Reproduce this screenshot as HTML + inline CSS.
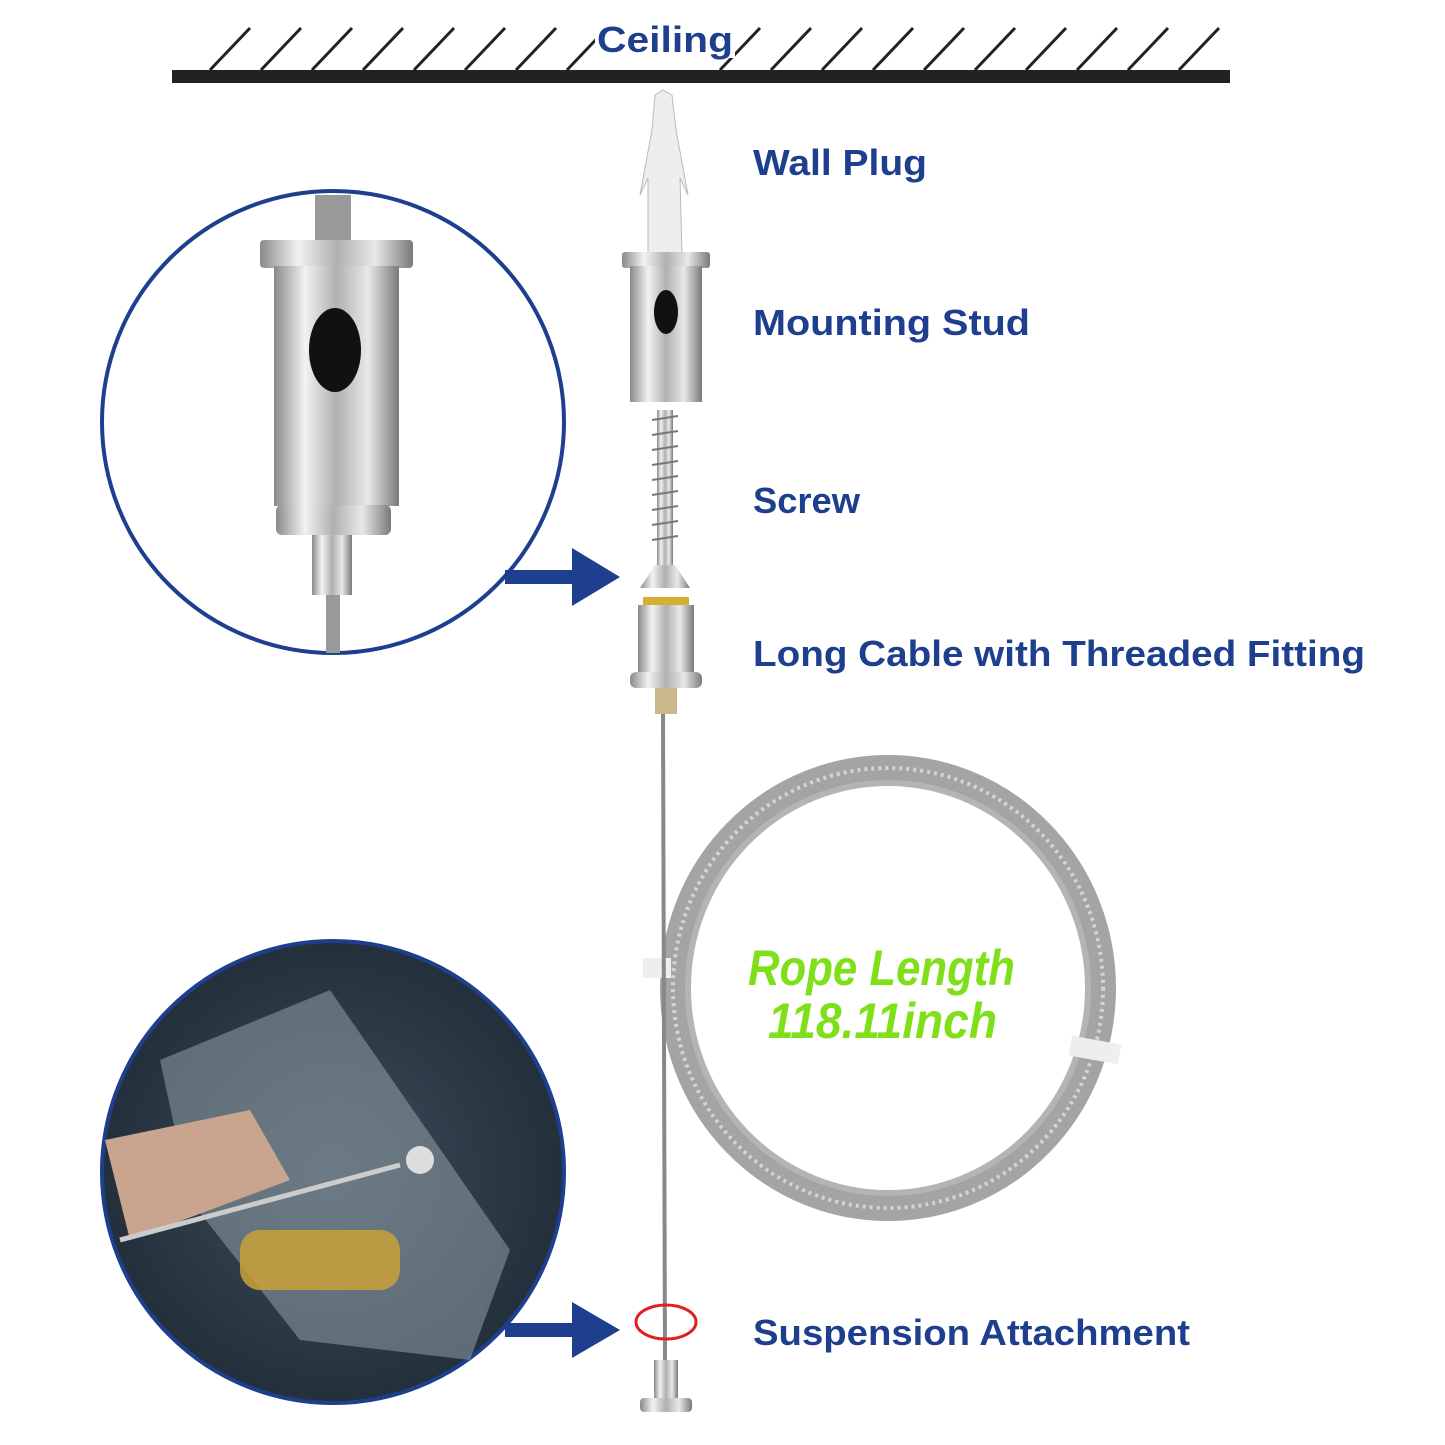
<!DOCTYPE html>
<html><head><meta charset="utf-8"><style>
html,body{margin:0;padding:0;background:#fff;}
svg{display:block;}
.lbl{font-family:"Liberation Sans",sans-serif;font-weight:bold;fill:#1d3f8e;font-size:36px;}
</style></head><body>
<svg width="1445" height="1445" viewBox="0 0 1445 1445" xmlns="http://www.w3.org/2000/svg">
<defs>
<linearGradient id="metal" x1="0" x2="1" y1="0" y2="0">
<stop offset="0" stop-color="#8a8a8a"/><stop offset="0.25" stop-color="#f2f2f2"/><stop offset="0.5" stop-color="#b0b0b0"/><stop offset="0.75" stop-color="#e8e8e8"/><stop offset="1" stop-color="#7a7a7a"/>
</linearGradient>
<radialGradient id="photo" cx="0.5" cy="0.5" r="0.6">
<stop offset="0" stop-color="#3d4d5a"/><stop offset="1" stop-color="#1e2a36"/>
</radialGradient>
</defs>
<g stroke="#222" stroke-width="3">
<line x1="210" y1="70" x2="250" y2="28"/><line x1="261" y1="70" x2="301" y2="28"/><line x1="312" y1="70" x2="352" y2="28"/><line x1="363" y1="70" x2="403" y2="28"/><line x1="414" y1="70" x2="454" y2="28"/><line x1="465" y1="70" x2="505" y2="28"/><line x1="516" y1="70" x2="556" y2="28"/><line x1="567" y1="70" x2="607" y2="28"/><line x1="720" y1="70" x2="760" y2="28"/><line x1="771" y1="70" x2="811" y2="28"/><line x1="822" y1="70" x2="862" y2="28"/><line x1="873" y1="70" x2="913" y2="28"/><line x1="924" y1="70" x2="964" y2="28"/><line x1="975" y1="70" x2="1015" y2="28"/><line x1="1026" y1="70" x2="1066" y2="28"/><line x1="1077" y1="70" x2="1117" y2="28"/><line x1="1128" y1="70" x2="1168" y2="28"/><line x1="1179" y1="70" x2="1219" y2="28"/>
</g>
<rect x="172" y="70" width="1058" height="13" fill="#222"/>
<rect x="595" y="14" width="140" height="44" fill="#fff"/>
<text x="597" y="52" class="lbl" font-size="38" textLength="136" lengthAdjust="spacingAndGlyphs">Ceiling</text>

<text x="753" y="175" class="lbl" textLength="174" lengthAdjust="spacingAndGlyphs">Wall Plug</text>
<text x="753" y="335" class="lbl" textLength="277" lengthAdjust="spacingAndGlyphs">Mounting Stud</text>
<text x="753" y="513" class="lbl" textLength="107" lengthAdjust="spacingAndGlyphs">Screw</text>
<text x="753" y="666" class="lbl" textLength="612" lengthAdjust="spacingAndGlyphs">Long Cable with Threaded Fitting</text>
<text x="753" y="1345" class="lbl" textLength="437" lengthAdjust="spacingAndGlyphs">Suspension Attachment</text>

<circle cx="333" cy="422" r="231" fill="#fff" stroke="#1d3f8e" stroke-width="4"/>
<rect x="315" y="195" width="36" height="50" fill="#999"/>
<rect x="260" y="240" width="153" height="28" rx="4" fill="url(#metal)"/>
<rect x="274" y="266" width="125" height="240" fill="url(#metal)"/>
<ellipse cx="335" cy="350" rx="26" ry="42" fill="#111"/>
<rect x="276" y="505" width="115" height="30" rx="6" fill="url(#metal)"/>
<rect x="312" y="535" width="40" height="60" fill="url(#metal)"/>
<rect x="326" y="595" width="14" height="58" fill="#999"/>
<rect x="505" y="570" width="72" height="14" fill="#1d3f8e"/>
<polygon points="572,548 620,577 572,606" fill="#1d3f8e"/>

<circle cx="333" cy="1172" r="231" fill="url(#photo)" stroke="#1d3f8e" stroke-width="4"/>
<polygon points="160,1060 330,990 510,1250 470,1360 300,1340 190,1200" fill="#9aa8b0" opacity="0.5"/>
<path d="M105,1140 L250,1110 L290,1180 L130,1240 Z" fill="#c9a48e"/>
<rect x="240" y="1230" width="160" height="60" rx="20" fill="#c9a23a" opacity="0.85"/>
<line x1="120" y1="1240" x2="400" y2="1165" stroke="#ccc" stroke-width="5"/>
<circle cx="420" cy="1160" r="14" fill="#ddd"/>
<rect x="505" y="1323" width="72" height="14" fill="#1d3f8e"/>
<polygon points="572,1302 620,1330 572,1358" fill="#1d3f8e"/>

<ellipse cx="888" cy="988" rx="215" ry="220" fill="none" stroke="#a4a4a4" stroke-width="26"/>
<ellipse cx="888" cy="988" rx="215" ry="220" fill="none" stroke="#d4d4d4" stroke-width="4" stroke-dasharray="3 4"/>
<ellipse cx="888" cy="988" rx="200" ry="205" fill="none" stroke="#b4b4b4" stroke-width="6"/>
<rect x="643" y="958" width="28" height="20" fill="#eee"/>
<rect x="1070" y="1040" width="50" height="20" fill="#eee" transform="rotate(10 1095 1050)"/>
<text x="748" y="985" textLength="267" lengthAdjust="spacingAndGlyphs" font-family="Liberation Sans,sans-serif" font-weight="bold" font-style="italic" font-size="50" fill="#7fe01a">Rope Length</text>
<text x="768" y="1038" textLength="229" lengthAdjust="spacingAndGlyphs" font-family="Liberation Sans,sans-serif" font-weight="bold" font-style="italic" font-size="50" fill="#7fe01a">118.11inch</text>

<line x1="663" y1="712" x2="665" y2="1365" stroke="#888" stroke-width="4"/>

<path d="M655,95 L663,90 L672,95 L676,130 L688,195 L680,178 L682,255 L648,255 L648,178 L640,195 L652,130 Z" fill="#eeeeee" stroke="#bbb"/>
<rect x="622" y="252" width="88" height="16" rx="3" fill="url(#metal)"/>
<rect x="630" y="266" width="72" height="136" fill="url(#metal)"/>
<ellipse cx="666" cy="312" rx="12" ry="22" fill="#111"/>
<rect x="657" y="410" width="16" height="160" fill="url(#metal)"/>
<g stroke="#777" stroke-width="2"><line x1="652" y1="420" x2="678" y2="416"/><line x1="652" y1="435" x2="678" y2="431"/><line x1="652" y1="450" x2="678" y2="446"/><line x1="652" y1="465" x2="678" y2="461"/><line x1="652" y1="480" x2="678" y2="476"/><line x1="652" y1="495" x2="678" y2="491"/><line x1="652" y1="510" x2="678" y2="506"/><line x1="652" y1="525" x2="678" y2="521"/><line x1="652" y1="540" x2="678" y2="536"/></g>
<polygon points="655,565 675,565 690,588 640,588" fill="url(#metal)"/>
<rect x="643" y="597" width="46" height="8" fill="#d4b030"/>
<rect x="638" y="605" width="56" height="68" fill="url(#metal)"/>
<rect x="630" y="672" width="72" height="16" rx="6" fill="url(#metal)"/>
<rect x="655" y="688" width="22" height="26" fill="#c9b98a"/>
<ellipse cx="666" cy="1322" rx="30" ry="17" fill="none" stroke="#e02020" stroke-width="3"/>
<rect x="654" y="1360" width="24" height="42" fill="url(#metal)"/>
<rect x="640" y="1398" width="52" height="14" rx="4" fill="url(#metal)"/>
</svg>
</body></html>
